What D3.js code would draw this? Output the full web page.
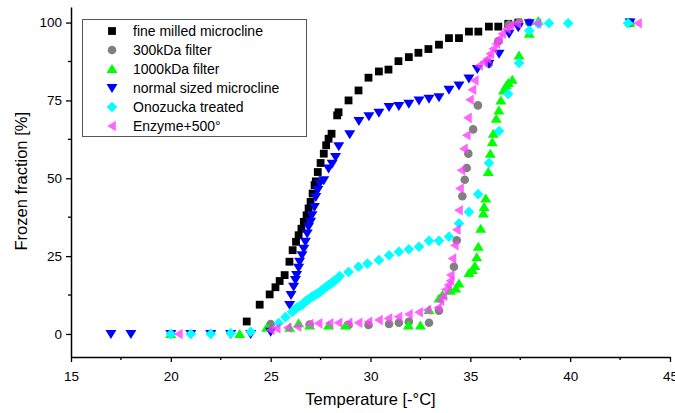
<!DOCTYPE html>
<html>
<head>
<meta charset="utf-8">
<script src="https://cdn.jsdelivr.net/npm/d3@7/dist/d3.min.js"></script>
<style>
  html, body { margin: 0; padding: 0; background: #fff; }
  svg { display: block; font-family: "Liberation Sans", Arial, sans-serif; }
</style>
</head>
<body>
<svg id="chart" width="675" height="413"></svg>
<script>
// Freezing curves: [temperature (-°C), frozen fraction (%)]
const fineMilled = [[23.8,4],[24.45,9.4],[24.95,12.7],[25.24,15],[25.45,17],[25.7,18.9],[25.94,23.2],[26.1,26.9],[26.27,29.6],[26.4,31.7],[26.54,33.8],[26.66,36],[26.8,38.1],[26.9,40.3],[27.0,42.4],[27.1,45.1],[27.2,47.8],[27.26,49],[27.36,52],[27.5,54.9],[27.66,57.9],[27.78,60.6],[27.9,62.7],[28.05,64.3],[28.33,70.2],[28.4,71.2],[28.9,75],[29.4,78.2],[29.9,82.3],[30.42,84.3],[30.9,84.9],[31.4,87.6],[31.92,88.9],[32.4,90.3],[32.9,91.5],[33.43,92.9],[33.93,95],[34.43,95],[34.93,97.1],[35.4,97.1],[35.93,98.7],[36.4,98.7],[36.9,99.6],[37.4,100],[43,100]];
const filter300 = [[25.0,3.2],[26.95,3],[28.9,2.9],[29.9,2.9],[30.93,3.2],[31.42,3.6],[31.92,3.9],[32.93,3.6],[33.43,7.5],[34.18,21.6],[34.32,30.1],[34.6,44.2],[34.72,49.5],[34.82,53.3],[34.9,57.9],[35.14,65.7],[35.38,73.4],[35.93,86.8],[36.4,94],[36.94,99.4],[37.44,100],[37.95,100],[43,100]];
const filter1000 = [[20,0],[23.45,0],[24.8,2],[25.95,2],[26.4,3.4],[26.95,2.7],[27.9,2.7],[28.75,2.7],[31.9,2.7],[32.5,2.7],[32.93,7.7],[33.43,11.4],[33.6,12.5],[34.0,13.9],[34.27,14.6],[34.43,16.2],[34.93,19.6],[35.1,20.5],[35.22,21.8],[35.32,24.6],[35.4,28],[35.52,33.8],[35.65,38.7],[35.69,40.8],[35.77,43.5],[35.9,52],[36.0,57.9],[36.1,61.6],[36.15,64.3],[36.3,69.1],[36.43,71.8],[36.53,75],[36.66,78.2],[36.8,79.8],[36.9,80.6],[37.1,81.6],[37.44,89.4],[37.95,96.4],[38.4,100.5],[43,100]];
const normalSized = [[17,0],[18,0],[20,0],[21,0],[22,0],[23,0],[24,0],[25,0.7],[25.95,9.3],[26.02,12.5],[26.15,15.2],[26.24,17.3],[26.3,18.9],[26.4,21.3],[26.45,23.2],[26.57,25.3],[26.66,27.4],[26.74,29.6],[26.83,32.3],[26.9,34.4],[27.0,36],[27.07,38.1],[27.19,40.8],[27.26,44],[27.36,46.2],[27.46,48.3],[27.66,49.4],[27.9,53.1],[28.08,54.7],[28.25,56.8],[28.41,60.3],[28.96,64.1],[29.42,68.4],[29.92,69.9],[30.42,71],[30.93,72.9],[31.42,73.2],[31.92,73.9],[32.43,75],[32.93,75.5],[33.43,76],[33.93,78.4],[34.43,79.8],[34.93,82],[35.35,85.1],[35.93,86.8],[36.44,90],[36.94,96.4],[37.4,98.5],[37.95,99.8],[43,100]];
const onozucka = [[20,0],[21,0],[22,0],[23,0.2],[24,0.7],[25.4,3.5],[25.74,5.4],[26.07,7.1],[26.2,7.8],[26.32,8.5],[26.45,8.9],[26.57,9.3],[26.65,9.9],[26.74,10.4],[26.82,10.8],[26.9,11.1],[27.07,12],[27.15,12.2],[27.24,12.5],[27.32,12.9],[27.4,13.2],[27.5,13.6],[27.58,14.1],[27.66,14.5],[27.74,14.9],[27.82,15.3],[27.91,15.7],[28.0,16.1],[28.08,16.5],[28.16,16.9],[28.25,17.3],[28.35,17.9],[28.46,18.6],[28.9,19.9],[29.4,21.6],[29.85,22.6],[30.42,23.7],[30.93,25.3],[31.42,26.4],[31.92,27.2],[32.43,28],[32.93,29.9],[33.43,29.9],[33.93,31.2],[34.43,35.5],[34.93,39.2],[35.39,44.9],[35.93,54.9],[36.44,65.2],[36.89,77.1],[37.44,87],[37.95,97.4],[38.4,99.6],[38.94,99.8],[39.9,99.8],[42.9,99.8]];
const enzyme500 = [[20.4,0],[25,1.3],[25.3,1.8],[25.85,2.0],[26.35,2.3],[26.95,3.2],[27.4,3.4],[27.95,3.4],[28.4,3.6],[28.9,3.6],[29.4,3.6],[29.9,3.9],[30.42,4.5],[30.9,5],[31.4,5.5],[31.92,6.3],[32.43,7.0],[32.85,7.7],[33.38,8.4],[33.5,10.7],[33.65,12.2],[33.77,14.3],[33.9,15.7],[34.0,17.1],[34.02,18.9],[34.1,24.2],[34.22,28.5],[34.32,33.5],[34.43,39.7],[34.48,46.7],[34.55,52.6],[34.68,59.5],[34.82,63.8],[34.88,69.4],[34.98,75.2],[35.1,78.4],[35.22,81.4],[35.44,86.2],[35.69,87.3],[35.86,88.4],[36.0,90],[36.15,91.6],[36.3,93.2],[36.44,94.8],[36.6,96.4],[36.83,98],[37.0,99],[37.35,99.6],[38.36,99.8],[43.4,99.8]];

const seriesNames = ["fine milled microcline", "300kDa filter", "1000kDa filter", "normal sized microcline", "Onozucka treated", "Enzyme+500°"];
const xTicks = [15, 20, 25, 30, 35, 40, 45];
const yTicks = [0, 25, 50, 75, 100];
const xTitle = "Temperature [-°C]";
const yTitle = "Frozen fraction [%]";

// marker shapes (centred at 0,0)
const shapes = {
  square: r => `M${-r},${-r}H${r}V${r}H${-r}Z`,
  circle: r => `M${r},0A${r},${r} 0 1,1 ${-r},0A${r},${r} 0 1,1 ${r},0Z`,
  triUp: r => `M0,${-r}L${r * 1.1},${r * 0.8}L${-r * 1.1},${r * 0.8}Z`,
  triDown: r => `M0,${r}L${r * 1.1},${-r * 0.8}L${-r * 1.1},${-r * 0.8}Z`,
  diamond: r => `M0,${-r}L${r},0L0,${r}L${-r},0Z`,
  triLeft: r => `M${-r},0L${r * 0.8},${-r * 1.1}L${r * 0.8},${r * 1.1}Z`
};

const series = [
  { name: seriesNames[0], data: fineMilled, shape: "square", r: 3.9, fill: "#000000", opacity: 1 },
  { name: seriesNames[1], data: filter300, shape: "circle", r: 4.3, fill: "#808080", opacity: 1 },
  { name: seriesNames[2], data: filter1000, shape: "triUp", r: 5.0, fill: "#00ff00", opacity: 1 },
  { name: seriesNames[3], data: normalSized, shape: "triDown", r: 5.0, fill: "#0000ff", opacity: 1 },
  { name: seriesNames[4], data: onozucka, shape: "diamond", r: 5.3, fill: "#00ffff", opacity: 1 },
  { name: seriesNames[5], data: enzyme500, shape: "triLeft", r: 4.8, fill: "#ff40ff", opacity: 0.8 }
];

const svg = d3.select("#chart");
const plotLeft = 71, plotRight = 670, plotTop = 7, plotBottom = 357;

const x = d3.scaleLinear().domain([15, 45]).range([plotLeft, plotRight]);
const y = d3.scaleLinear().domain([-7.4, 105]).range([plotBottom, plotTop]);

// minor ticks halfway between the labelled ones
const xMinor = d3.range(17.5, 45, 5);
const yMinor = d3.range(12.5, 100, 25);

const gx = svg.append("g").attr("transform", `translate(0,${plotBottom})`)
  .call(d3.axisBottom(x).tickValues(xTicks).tickSize(5).tickPadding(9).tickSizeOuter(0));
gx.append("g").selectAll("line").data(xMinor).join("line")
  .attr("x1", d => x(d)).attr("x2", d => x(d)).attr("y1", 0).attr("y2", 3)
  .attr("stroke", "#000").attr("stroke-width", 1.3);

const gy = svg.append("g").attr("transform", `translate(${plotLeft},0)`)
  .call(d3.axisLeft(y).tickValues(yTicks).tickSize(5).tickPadding(4).tickSizeOuter(0));
gy.append("g").selectAll("line").data(yMinor).join("line")
  .attr("y1", d => y(d)).attr("y2", d => y(d)).attr("x1", 0).attr("x2", -3)
  .attr("stroke", "#000").attr("stroke-width", 1.3);

[gx, gy].forEach(g => {
  g.select(".domain").attr("stroke", "#000").attr("stroke-width", 1.5);
  g.selectAll(".tick line").attr("stroke", "#000").attr("stroke-width", 1.3);
  g.selectAll(".tick text").attr("fill", "#000")
    .style("font-family", "'Liberation Sans', Arial, sans-serif").style("font-size", "13.5px");
});

// axis titles
svg.append("text").attr("x", (plotLeft + plotRight) / 2).attr("y", 405)
  .attr("text-anchor", "middle").style("font-size", "16.5px").attr("fill", "#000")
  .text(xTitle);
svg.append("text")
  .attr("transform", `translate(27,${y(50) + 3}) rotate(-90)`)
  .attr("text-anchor", "middle").style("font-size", "16.5px").attr("fill", "#000")
  .text(yTitle);

// markers
const plot = svg.append("g");
series.forEach(s => {
  plot.append("g").attr("fill", s.fill).attr("fill-opacity", s.opacity)
    .selectAll("path").data(s.data).join("path")
    .attr("transform", d => `translate(${x(d[0])},${y(d[1])})`)
    .attr("d", shapes[s.shape](s.r));
});

// legend
const lg = svg.append("g");
lg.append("rect").attr("x", 82.5).attr("y", 19.5).attr("width", 224).attr("height", 117)
  .attr("fill", "#fff").attr("stroke", "#555").attr("stroke-width", 1);
const rowY = d3.scaleLinear().domain([0, 5]).range([31, 126]);
series.forEach((s, i) => {
  lg.append("path").attr("transform", `translate(112,${rowY(i)})`)
    .attr("d", shapes[s.shape](s.r)).attr("fill", s.fill).attr("fill-opacity", s.opacity);
  lg.append("text").attr("x", 133).attr("y", rowY(i) + 5)
    .style("font-size", "14px").attr("fill", "#000").text(s.name);
});
</script>
</body>
</html>
